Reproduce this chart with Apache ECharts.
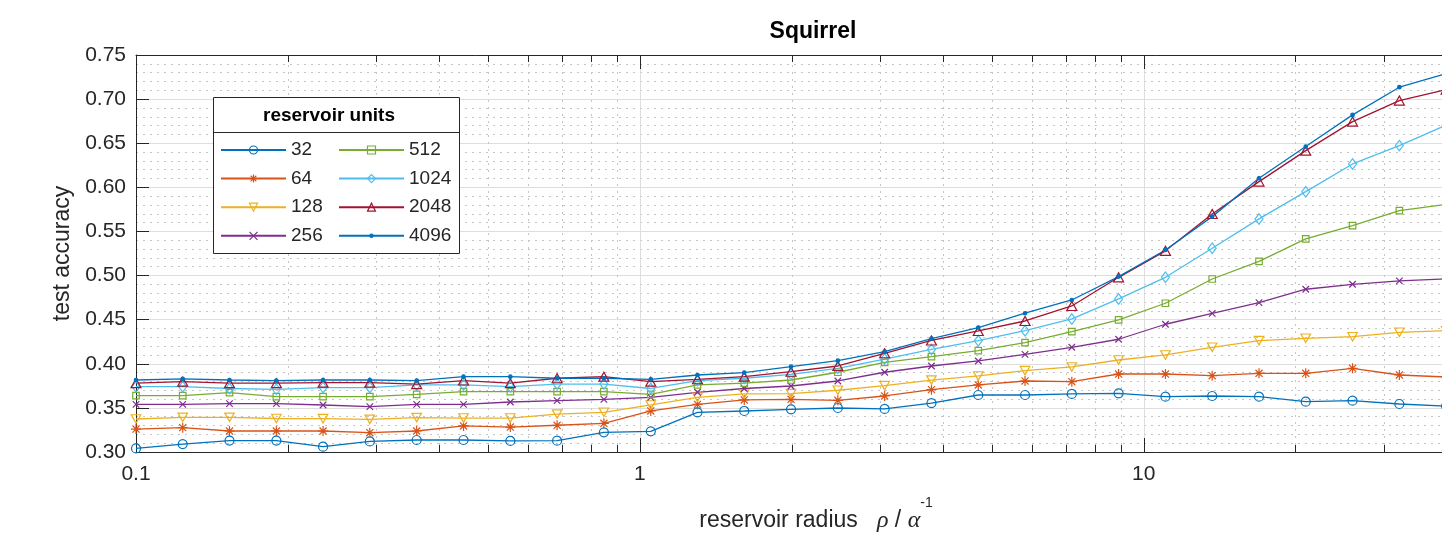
<!DOCTYPE html>
<html>
<head>
<meta charset="utf-8">
<script src="https://cdn.jsdelivr.net/npm/echarts@6/dist/echarts.min.js"></script>
<style>html,body{margin:0;padding:0;background:#fff;overflow:hidden;width:1442px;height:539px}#chart{width:1496px;height:539px}</style>
</head>
<body>
<div id="chart"></div>
<script>
// ---------------- data ----------------
const radius = [0.1, 0.1238, 0.1533, 0.1899, 0.2351, 0.2911, 0.3606, 0.4467, 0.5532, 0.685, 0.8483, 1.051, 1.301, 1.611, 1.995, 2.471, 3.06, 3.79, 4.694, 5.812, 7.197, 8.913, 11.04, 13.67, 16.93, 20.96, 25.96, 32.15, 39.81];
const units = ['32', '64', '128', '256', '512', '1024', '2048', '4096'];
const acc32 = [0.304,0.309,0.313,0.313,0.306,0.312,0.3136,0.3136,0.3125,0.3128,0.3223,0.3234,0.345,0.3465,0.3484,0.3499,0.3488,0.3555,0.3646,0.3646,0.3658,0.3665,0.3627,0.3635,0.3627,0.357,0.3582,0.3544,0.352];
const acc64 = [0.326,0.3276,0.3238,0.3238,0.3238,0.3219,0.3238,0.3295,0.3283,0.3303,0.3325,0.3465,0.354,0.359,0.3597,0.3586,0.3635,0.3707,0.376,0.3805,0.3797,0.3884,0.3884,0.3865,0.3892,0.3892,0.3949,0.3873,0.385];
const acc128 = [0.3374,0.3393,0.3393,0.338,0.3378,0.337,0.339,0.3385,0.3385,0.343,0.345,0.3533,0.362,0.3658,0.3661,0.37,0.3752,0.3815,0.3862,0.3922,0.3964,0.4043,0.41,0.4187,0.4262,0.4289,0.4307,0.4357,0.4375];
const acc256 = [0.354,0.354,0.3548,0.3548,0.3533,0.3514,0.354,0.354,0.3567,0.3582,0.3597,0.362,0.3677,0.372,0.3748,0.3805,0.3904,0.3975,0.4032,0.4107,0.4187,0.4278,0.4448,0.4572,0.4693,0.4845,0.4901,0.4939,0.4962];
const acc512 = [0.3638,0.3638,0.3672,0.3627,0.3627,0.3627,0.3654,0.3684,0.3684,0.3684,0.3684,0.3654,0.376,0.378,0.3816,0.3904,0.4017,0.408,0.4149,0.4239,0.4364,0.4497,0.4686,0.4961,0.516,0.5415,0.5566,0.5736,0.5806];
const acc1024 = [0.374,0.374,0.372,0.371,0.373,0.373,0.376,0.376,0.374,0.377,0.377,0.372,0.381,0.3836,0.388,0.3949,0.4054,0.4162,0.4262,0.4375,0.4508,0.4735,0.498,0.5309,0.5642,0.5951,0.6265,0.6473,0.6705];
const acc2048 = [0.378,0.3797,0.378,0.378,0.3786,0.3786,0.377,0.381,0.378,0.3836,0.3854,0.3797,0.3824,0.3854,0.391,0.3975,0.4119,0.4264,0.4372,0.4485,0.4655,0.498,0.528,0.5698,0.6065,0.6416,0.6745,0.6983,0.7108];
const acc4096 = [0.3816,0.3828,0.3816,0.381,0.3816,0.3816,0.381,0.3854,0.3854,0.3836,0.3836,0.3824,0.3873,0.39,0.3967,0.4035,0.4137,0.4285,0.441,0.4573,0.4723,0.4988,0.529,0.5668,0.6103,0.6462,0.6821,0.7135,0.7289];
const xMinorTicks = [0.2,0.3,0.4,0.5,0.6,0.7,0.8,0.9,2,3,4,5,6,7,8,9,20,30,40];
const titleText = 'Squirrel';
const legendTitle = 'reservoir units';
const yName = 'test accuracy';

// ---------------- styling ----------------
const SANS = '"Liberation Sans", Arial, Helvetica, sans-serif';
const AX = '#262626';
const X_MIN = 0.1, X_MAX = 50, Y_MIN = 0.3, Y_MAX = 0.75;
const seriesValues = [acc32, acc64, acc128, acc256, acc512, acc1024, acc2048, acc4096];
const looks = [
  {color:'#0072BD', symbol:'path://M5,0A5,5 0 1,1 4.99,0Z', size:9},
  {color:'#D95319', symbol:'path://M5,0L5,10M0,5L10,5M1.46,1.46L8.54,8.54M8.54,1.46L1.46,8.54', size:10},
  {color:'#EDB120', symbol:'path://M0,0L10,0L5,9Z', size:[9.5,8.5]},
  {color:'#7E2F8E', symbol:'path://M0,0L10,10M10,0L0,10', size:6.5},
  {color:'#77AC30', symbol:'path://M0,0L10,0L10,10L0,10Z', size:6.5},
  {color:'#4DBEEE', symbol:'path://M5,0L10,7L5,14L0,7Z', size:[8,10.5]},
  {color:'#A2142F', symbol:'path://M5,0L10,9L0,9Z', size:[10,9]},
  {color:'#0072BD', symbol:'circle', size:3.5, filled:true}
];

const chart = echarts.init(document.getElementById('chart'), null, {renderer:'canvas'});

const lineSeries = units.map((u, k) => ({
  name: u,
  type: 'line',
  xAxisIndex: 0, yAxisIndex: 0,
  data: radius.map((x, i) => [x, seriesValues[k][i]]),
  symbol: looks[k].symbol,
  symbolSize: looks[k].size,
  showSymbol: true,
  showAllSymbol: true,
  lineStyle: {width: 1.3, color: looks[k].color},
  itemStyle: {color: looks[k].filled ? looks[k].color : 'rgba(255,255,255,0)', borderColor: looks[k].color, borderWidth: 1.2},
  emphasis: {disabled: true},
  z: 3,
  animation: false
}));

const minorGrid = {
  type: 'custom',
  name: '_minor',
  xAxisIndex: 0, yAxisIndex: 0,
  silent: true,
  z: 1,
  clip: false,
  encode: {x: 0, y: 1},
  data: xMinorTicks.map(v => [v, Y_MIN]),
  renderItem: (params, api) => {
    const v = api.value(0);
    const b = api.coord([v, Y_MIN]);
    const t = api.coord([v, Y_MAX]);
    const x = Math.round(b[0]) + 0.5;
    return {type: 'group', children: [
      {type:'line', shape:{x1:x, y1:b[1], x2:x, y2:t[1]}, style:{stroke:'#c4c4c4', lineWidth:1, lineDash:[2,5]}},
      {type:'line', shape:{x1:x, y1:b[1], x2:x, y2:b[1]-7}, style:{stroke:AX, lineWidth:1}},
      {type:'line', shape:{x1:x, y1:t[1], x2:x, y2:t[1]+7}, style:{stroke:AX, lineWidth:1}}
    ]};
  },
  animation: false
};

const legends = units.map((u, k) => ({
  data: [u],
  left: k < 4 ? 220 : 338,
  top: 150 + (k % 4) * 28.6 - 10,
  orient: 'vertical',
  padding: 0,
  itemWidth: 65,
  itemHeight: u === '4096' ? 4 : 10,
  itemGap: 0,
  selectedMode: false,
  itemStyle: {borderWidth: 1.2},
  textStyle: {fontSize: 19, lineHeight: 20, color: AX, fontFamily: SANS},
  z: 10
}));

const option = {
  backgroundColor: '#fff',
  animation: false,
  textStyle: {fontFamily: SANS},
  grid: {left: 136, top: 55, bottom: 87, right: 0, containLabel: false},
  legend: legends,
  graphic: [
    {type:'text', x: 813, y: 32, z: 10, style:{text: titleText, x:0, y:0, align:'center', verticalAlign:'middle', font:'bold 23px ' + SANS, fill:'#000'}},
    {type:'rect', z: 8, shape:{x:213.5, y:97.5, width:246, height:156}, style:{fill:'#fff', stroke:AX, lineWidth:1}},
    {type:'line', z: 9, shape:{x1:213.5, y1:132.5, x2:459.5, y2:132.5}, style:{stroke:AX, lineWidth:1}},
    {type:'text', x: 329, y: 116, z: 10, style:{text: legendTitle, align:'center', verticalAlign:'middle', font:'bold 19px ' + SANS, fill:'#000'}}
  ],
  xAxis: [
    {
      type: 'log', logBase: 10, min: X_MIN, max: X_MAX, position: 'bottom',
      name: 'reservoir radius   {g|ρ} / {g|α}{s|-1}',
      nameLocation: 'middle', nameGap: 44,
      nameTextStyle: {fontSize: 23, color: AX, fontFamily: SANS,
        rich: {
          g: {fontSize: 24, fontStyle: 'italic', fontFamily: '"Liberation Serif", "DejaVu Serif", serif', color: AX},
          s: {fontSize: 14, color: AX, fontFamily: SANS, padding: [0, 0, 36, 0]}
        }},
      axisLine: {show: true, onZero: false, lineStyle: {color: AX, width: 1}},
      axisTick: {show: true, inside: true, length: 14, lineStyle: {color: AX}},
      axisLabel: {fontSize: 21, color: AX, margin: 12, showMaxLabel: false, fontFamily: SANS,
        formatter: v => String(+(+v).toPrecision(3))},
      splitLine: {show: true, lineStyle: {color: '#dedede', width: 1}},
      minorTick: {show: false},
      minorSplitLine: {show: false}
    },
    {
      type: 'log', logBase: 10, min: X_MIN, max: X_MAX, position: 'top',
      axisLine: {show: true, onZero: false, lineStyle: {color: AX, width: 1}},
      axisTick: {show: true, inside: true, length: 14, lineStyle: {color: AX}},
      axisLabel: {show: false},
      splitLine: {show: false}
    }
  ],
  yAxis: {
    type: 'value', min: Y_MIN, max: Y_MAX, interval: 0.05,
    name: yName, nameLocation: 'middle', nameGap: 53,
    nameTextStyle: {fontSize: 23, color: AX, fontFamily: SANS},
    axisLine: {show: true, onZero: false, lineStyle: {color: AX, width: 1}},
    axisTick: {show: true, inside: true, length: 13, lineStyle: {color: AX}},
    axisLabel: {fontSize: 21, color: AX, margin: 10, fontFamily: SANS, formatter: v => v.toFixed(2)},
    splitLine: {show: true, lineStyle: {color: '#dedede', width: 1}},
    minorTick: {show: false, splitNumber: 5},
    minorSplitLine: {show: true, lineStyle: {color: '#c4c4c4', width: 1, type: [2, 5]}}
  },
  series: [minorGrid].concat(lineSeries)
};
chart.setOption(option);
</script>
</body>
</html>
